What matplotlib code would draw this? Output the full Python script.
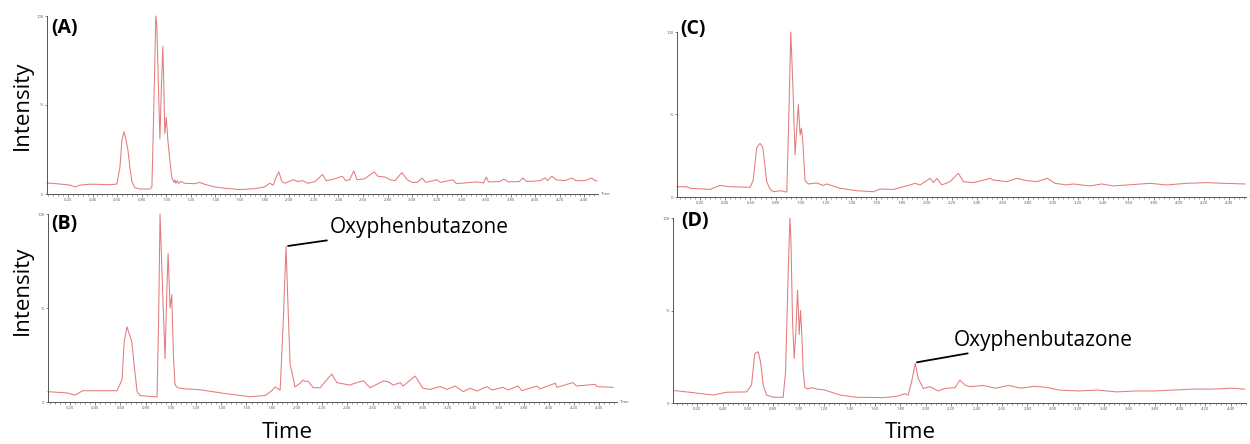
import matplotlib.pyplot as plt
import numpy as np
from matplotlib.ticker import MultipleLocator, FixedLocator

plt.rcParams['font.family'] = ['Open Sans', 'DejaVu Sans']

# retention time (min) and relative intensity (%)
t_a = [0.03, 0.135, 0.216, 0.257, 0.298, 0.379, 0.46, 0.541, 0.598, 0.623, 0.639, 0.655, 0.671, 0.687,
       0.704, 0.72, 0.745, 0.785, 0.867, 0.883, 0.899, 0.915, 0.923, 0.936, 0.948, 0.96, 0.972, 0.98,
       0.988, 1.0, 1.013, 1.029, 1.045, 1.062, 1.07, 1.078, 1.09, 1.1, 1.12, 1.15, 1.23, 1.27, 1.31,
       1.39, 1.48, 1.6, 1.72, 1.8, 1.84, 1.87, 1.89, 1.915, 1.94, 1.965, 2.03, 2.07, 2.11, 2.15, 2.21,
       2.27, 2.3, 2.37, 2.43, 2.46, 2.49, 2.525, 2.55, 2.61, 2.69, 2.72, 2.78, 2.82, 2.86, 2.915, 2.96,
       3.0, 3.04, 3.08, 3.11, 3.2, 3.23, 3.33, 3.36, 3.47, 3.52, 3.58, 3.6, 3.62, 3.71, 3.745, 3.78,
       3.87, 3.9, 3.93, 4.04, 4.08, 4.1, 4.135, 4.17, 4.24, 4.3, 4.33, 4.4, 4.46, 4.48, 4.5]
y_a = [6.2, 5.6, 5.0, 4.0, 5.0, 5.5, 5.4, 5.2, 5.6, 15, 30, 35, 31, 25,
       15, 7, 3.5, 2.8, 2.8, 4, 50, 100, 95, 60, 31, 60, 83, 60,
       34, 43, 30, 19, 9, 6.5, 8, 6, 7.5, 6, 7, 6, 5.8, 6.5, 5.5,
       4, 3.2, 2.5, 3, 4, 6, 5, 9, 12.4, 7, 6, 8, 7, 7.5, 6, 7,
       11, 7.5, 8.5, 10, 7.5, 8, 13, 8, 8.5, 12.4, 10, 9.5, 8, 7.5, 12, 8,
       6.5, 6.5, 9, 6.5, 8, 6.5, 8, 5.8, 6.5, 6.8, 6.2, 9.5, 6.8, 7, 8.4, 6.8,
       7, 9, 7, 7.5, 9, 7.5, 10, 8, 7.5, 9, 7.5, 7.5, 9, 7.8, 7.3]

t_b = [0.025, 0.176, 0.24, 0.30, 0.438, 0.573, 0.613, 0.629, 0.652, 0.69, 0.708, 0.732, 0.756, 0.89,
       0.902, 0.914, 0.934, 0.954, 0.966, 0.978, 0.994, 1.007, 1.02, 1.033, 1.057, 1.113, 1.232, 1.43,
       1.63, 1.75, 1.80, 1.827, 1.867, 1.89, 1.914, 1.93, 1.946, 1.96, 1.985, 2.025, 2.05, 2.065, 2.09,
       2.13, 2.184, 2.277, 2.317, 2.42, 2.46, 2.528, 2.58, 2.687, 2.724, 2.764, 2.82, 2.843, 2.938, 3.0,
       3.057, 3.136, 3.19, 3.256, 3.32, 3.374, 3.428, 3.507, 3.547, 3.637, 3.676, 3.755, 3.785, 3.904,
       3.93, 4.05, 4.063, 4.19, 4.22, 4.367, 4.38, 4.51]
y_b = [5.5, 4.8, 3.7, 6, 6, 6, 12, 32, 40, 32, 20, 5.5, 3.4, 2.7,
       40, 100, 60, 23, 55, 79, 50, 57, 25, 9, 7.5, 7, 6.5, 4.5,
       2.8, 3.5, 6, 8, 6.3, 40, 82.6, 50, 20, 16, 8, 10, 11.7, 11, 11,
       7.6, 7.6, 14.9, 10.3, 9, 10, 11.3, 7.6, 11.2, 10.8, 9, 10.3, 8.5, 13.8, 7.3,
       6.7, 8.2, 6.7, 8.5, 5.5, 7.3, 5.8, 8.2, 6.4, 7.8, 6.4, 8.5, 6, 8.5,
       7, 10, 7.8, 10.3, 8.5, 9.4, 8.2, 7.8]

t_c = [0.017, 0.094, 0.121, 0.279, 0.359, 0.438, 0.597, 0.621, 0.65, 0.676, 0.698, 0.716, 0.729,
       0.756, 0.782, 0.835, 0.888, 0.901, 0.92, 0.936, 0.954, 0.98, 0.994, 1.004, 1.015, 1.033, 1.06,
       1.126, 1.179, 1.206, 1.311, 1.444, 1.575, 1.629, 1.734, 1.813, 1.867, 1.906, 1.946, 2.025, 2.052,
       2.079, 2.118, 2.184, 2.25, 2.29, 2.369, 2.502, 2.525, 2.634, 2.713, 2.793, 2.872, 2.956, 3.017,
       3.11, 3.163, 3.295, 3.388, 3.48, 3.666, 3.77, 3.904, 4.063, 4.221, 4.353, 4.525]
y_c = [6.2, 6.2, 5.3, 4.6, 7, 6.2, 5.9, 10, 30, 32.5, 30, 18, 9.3,
       4.6, 3.2, 3.8, 3, 38, 100, 69, 25.5, 56, 37.6, 41.6, 34.5, 10, 7.9,
       8.5, 7, 7.9, 5.3, 3.8, 3.2, 4.8, 4.6, 6.2, 7.3, 8.3, 7.3, 11.3, 8.7,
       11.3, 7.3, 9.3, 14.4, 9.3, 8.7, 11.3, 10.3, 9.3, 11.3, 9.9, 9.3, 11.3, 8.3,
       7.3, 7.9, 6.7, 7.9, 6.7, 7.7, 8.3, 7.3, 8.3, 8.7, 8.3, 7.9]

t_d = [0.024, 0.143, 0.326, 0.431, 0.589, 0.628, 0.654, 0.68, 0.699, 0.72, 0.746, 0.798, 0.877,
       0.896, 0.917, 0.93, 0.938, 0.951, 0.964, 0.977, 0.99, 0.998, 1.003, 1.014, 1.024, 1.035, 1.048,
       1.074, 1.1, 1.14, 1.206, 1.324, 1.455, 1.665, 1.77, 1.835, 1.861, 1.888, 1.917, 1.94, 1.98,
       2.032, 2.098, 2.15, 2.23, 2.268, 2.308, 2.347, 2.45, 2.55, 2.65, 2.75, 2.85, 2.95, 3.05, 3.2,
       3.35, 3.5, 3.65, 3.8, 3.95, 4.1, 4.25, 4.4, 4.51]
y_d = [6.7, 5.8, 4.3, 5.8, 6, 9.7, 26.8, 27.7, 22.3, 9.7, 4.3, 3.1, 3.1,
       17, 71, 100, 89, 44, 24, 38.5, 61, 49, 37, 50, 37, 17, 8.3,
       7.6, 8.3, 7.6, 7, 4.3, 3.1, 2.9, 3.6, 5, 4.3, 11.5, 21.4, 13.3, 7.9,
       8.8, 6.5, 7.9, 8.3, 12.4, 9.7, 8.8, 9.5, 8, 9.5, 8, 9, 8.5, 7, 6.5,
       7, 6, 6.5, 6.5, 7, 7.5, 7.5, 8, 7.5]

W, H = 1250, 444
fig = plt.figure(figsize=(W / 100, H / 100), dpi=100)
ticks = np.arange(0.2, 4.41, 0.2)


def panel(left, right, top, bottom, xlim, t, y, label, lx, ly):
    ax = fig.add_axes([left / W, 1 - bottom / H, (right - left) / W, (bottom - top) / H])
    ax.plot(t, y, color='#e37b7b', lw=0.75, clip_on=False)
    ax.set_xlim(*xlim)
    ax.set_ylim(0, 100)
    for s in ['top', 'right']:
        ax.spines[s].set_visible(False)
    for s in ['left', 'bottom']:
        ax.spines[s].set_color('#555555')
        ax.spines[s].set_linewidth(0.7)
    ax.xaxis.set_major_locator(FixedLocator(ticks))
    ax.set_xticklabels(['%.2f' % v for v in ticks], fontsize=3, color='#555555')
    ax.xaxis.set_minor_locator(MultipleLocator(0.04))
    ax.tick_params(axis='x', which='major', length=2, width=0.5, pad=1, colors='#555555')
    ax.tick_params(axis='x', which='minor', length=1.2, width=0.4, colors='#555555')
    ax.set_yticks([0, 50, 100])
    ax.set_yticklabels(['0', '%', '100'], fontsize=3, color='#555555')
    ax.tick_params(axis='y', length=1.5, width=0.5, pad=1, colors='#555555')
    ax.text(1.006, 0, 'Time', transform=ax.transAxes, fontsize=3, color='#555555',
            ha='left', va='center')
    fig.text(lx / W, 1 - ly / H, label, fontsize=14, fontweight='bold',
             ha='left', va='center')
    return ax


ax_a = panel(47, 598, 16, 194, (0.03, 4.51), t_a, y_a, '(A)', 51, 28)
ax_b = panel(48, 617, 214, 402, (0.025, 4.54), t_b, y_b, '(B)', 51, 224)
ax_c = panel(677, 1246, 32, 197, (0.017, 4.533), t_c, y_c, '(C)', 680, 29)
ax_d = panel(673, 1246, 218, 403, (0.01, 4.52), t_d, y_d, '(D)', 681, 221)

fig.text(22 / W, 1 - 105 / H, 'Intensity', rotation=90, fontsize=16, ha='center', va='center')
fig.text(22 / W, 1 - 290 / H, 'Intensity', rotation=90, fontsize=16, ha='center', va='center')
fig.text(287 / W, 1 - 432 / H, 'Time', fontsize=16, ha='center', va='center')
fig.text(910 / W, 1 - 432 / H, 'Time', fontsize=16, ha='center', va='center')

ax_b.annotate('Oxyphenbutazone', xy=(1.93, 83), xytext=(2.26, 93),
              fontsize=15, ha='left', va='center',
              arrowprops=dict(arrowstyle='-', color='black', lw=1.3, shrinkA=0, shrinkB=0))
ax_d.annotate('Oxyphenbutazone', xy=(1.93, 22), xytext=(2.22, 34),
              fontsize=15, ha='left', va='center',
              arrowprops=dict(arrowstyle='-', color='black', lw=1.3, shrinkA=0, shrinkB=0))

fig.savefig('out.png', dpi=100)
